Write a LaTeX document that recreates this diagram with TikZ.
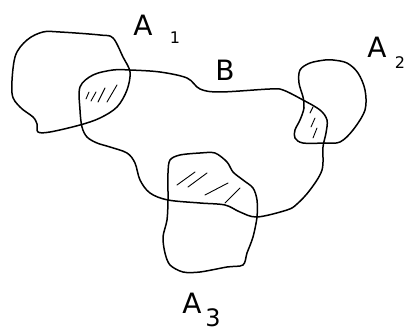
\documentclass[tikz,border=0pt]{standalone}
\usepackage{fontspec}
\setsansfont{DejaVu Sans}
\begin{document}
\begin{tikzpicture}[x=1pt,y=-1pt,
  ink/.style={line width=1.5pt, line cap=round, line join=round, black},
  hatch/.style={line width=0.9pt, line cap=round, black},
  biglab/.style={font=\sffamily\fontsize{28}{28}\selectfont, inner sep=0pt},
  midlab/.style={font=\sffamily\fontsize{24}{24}\selectfont, inner sep=0pt},
  sublab/.style={font=\sffamily\fontsize{16}{16}\selectfont, inner sep=0pt}]
\useasboundingbox (0,0) rectangle (410,334);
% A1
\draw[ink] plot[smooth cycle, tension=0.55] coordinates {
 (43,32) (60,32) (100,35) (113,38) (123,57) (130,72) (127,90) (117,107) (100,118)
 (80,125) (50,132) (38,132) (37,124) (33,117) (20,107) (12,93) (15,57) (27,40)};
% B
\draw[ink] plot[smooth cycle, tension=0.55] coordinates {
 (80,87) (93,75) (113,70) (130,70) (160,72) (187,78) (200,89) (220,92) (270,89)
 (283,90) (303,100) (320,110) (327,120) (326,133) (323,147) (322,170) (310,190)
 (297,204) (287,210) (257,217) (240,212) (225,205) (200,203) (168,200) (150,193)
 (140,180) (135,163) (127,153) (110,147) (97,143) (87,137) (82,127) (80,110)};
% A2
\draw[ink] plot[smooth cycle, tension=0.55] coordinates {
 (325,60) (310,63) (300,70) (299,83) (303,97) (304,108) (300,120) (295,130)
 (295,138) (303,143) (325,143) (340,142) (353,130) (365,110) (365,90) (358,73)
 (347,63) (333,60)};
% A3
\draw[ink] plot[smooth cycle, tension=0.5] coordinates {
 (170,160) (180,155) (200,153) (215,153) (227,162) (233,172) (243,180) (253,188)
 (257,200) (257,217) (253,237) (247,253) (243,265) (227,267) (200,272) (183,272)
 (170,265) (165,253) (163,237) (167,220) (168,200) (168,173)};
% hatching A1 cap B
\draw[hatch] (86,99) -- (89,92);
\draw[hatch] (91,101) -- (96,92);
\draw[hatch] (98,102) -- (105,88);
\draw[hatch] (107,102) -- (117,85);
% hatching A2 cap B
\draw[hatch] (310,113) -- (313,107);
\draw[hatch] (311,127) -- (315,118);
\draw[hatch] (313,138) -- (317,128);
% hatching A3 cap B
\draw[hatch] (177,185) -- (195,172);
\draw[hatch] (188,187) -- (207,173);
\draw[hatch] (205,195) -- (228,183);
\draw[hatch] (225,203) -- (240,188);
% labels
\node[biglab] (la1) at (143,25) {A};
\node[sublab] (s1) at (175,38) {1};
\node[biglab] (lb) at (225,70) {B};
\node[biglab] (la2) at (377,47) {A};
\node[sublab] (s2) at (400,63) {2};
\node[biglab] (la3) at (192,303) {A};
\node[midlab] (s3) at (213,318) {3};
\end{tikzpicture}
\end{document}
